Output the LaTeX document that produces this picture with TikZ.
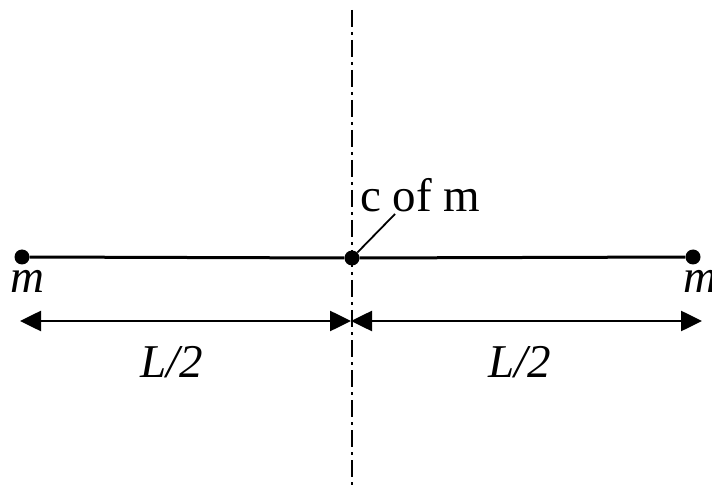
\documentclass[tikz,border=0pt]{standalone}
\usepackage{fontspec}
\setmainfont{Liberation Serif}
\usetikzlibrary{arrows.meta}

\begin{document}
\begin{tikzpicture}[x=1pt, y=1pt,
    massa/.style={circle, fill=black, inner sep=0pt, minimum size=15pt},
    rotulo/.style={inner sep=0pt, font=\fontsize{47}{50}\selectfont},
    eixo/.style={line width=2pt, dash pattern=on 17pt off 5pt on 3pt off 5pt},
    barra/.style={line width=3pt},
    cota/.style={{Triangle[length=21pt,width=20pt]}-{Triangle[length=21pt,width=20pt]}, line width=2.6pt}
]
    \useasboundingbox (0,0) rectangle (712,-486);

    % eixo de simetria
    \coordinate (eixotopo) at (352,-10);
    \coordinate (eixobase) at (352,-486);
    \draw[eixo] (eixotopo) -- (eixobase);

    % barra com as massas
    \node[massa] (massaesq) at (22,-257) {};
    \node[massa] (centro) at (352,-258) {};
    \node[massa] (massadir) at (693,-257) {};
    \draw[barra] (massaesq) -- (centro) -- (massadir);

    \node[rotulo, anchor=base] (mesq) at (27,-293) {\itshape m};
    \node[rotulo, anchor=base west] (mdir) at (683,-293) {\itshape m};

    % centro de massa
    \node[rotulo, anchor=base west] (cdm) at (360,-212) {c of m};
    \coordinate (guia) at (395,-214);
    \draw[line width=1.8pt] (centro) -- (guia);

    % cotas
    \coordinate (cotaesq) at (20,-321);
    \coordinate (cotameio) at (351,-321);
    \coordinate (cotadir) at (702,-321);
    \draw[cota] (cotaesq) -- (cotameio);
    \draw[cota] (cotameio) -- (cotadir);

    \node[rotulo, anchor=base] (metadeesq) at (172,-377) {\itshape L/2};
    \node[rotulo, anchor=base] (metadedir) at (520,-377) {\itshape L/2};
\end{tikzpicture}
\end{document}
